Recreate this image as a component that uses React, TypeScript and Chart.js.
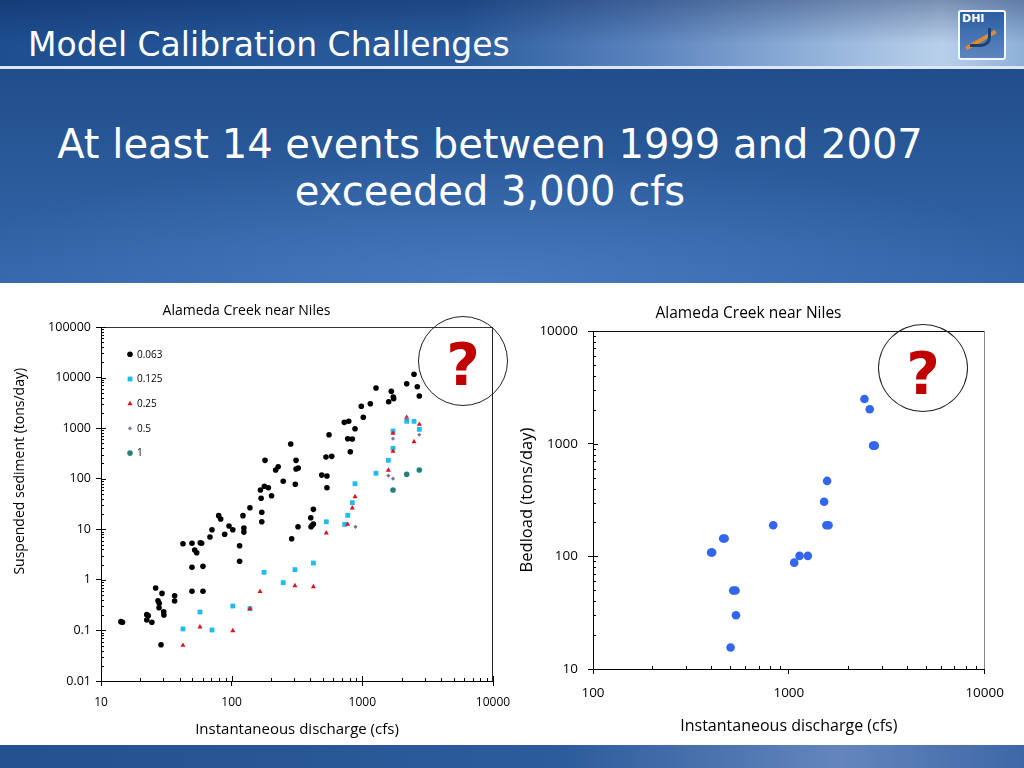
import React, { useEffect, useRef } from 'react';
import { Chart, registerables } from 'chart.js';

Chart.register(...registerables);

// ---------- Left chart: suspended sediment by grain size ----------
const legendLabels = ['0.063', '0.125', '0.25', '0.5', '1'];

const flow063 = [14.2, 14.6, 22.4, 23.0, 22.4, 24.5, 26.2, 27.3, 27.9, 27.8, 29.3, 30.2, 30.3, 28.8, 36.6, 36.6, 42.4, 49.7, 49.7, 49.7, 52.1, 54.0, 57.5, 58.9, 60.3, 60.3, 68.2, 70.7, 79.6, 82.4, 88.4, 95.4, 102, 122, 124, 124, 115, 115, 138, 170, 170, 168, 166, 180, 178, 191, 202, 217, 227, 248, 283, 288, 307, 311, 311, 323, 322, 403, 422, 405, 414, 422, 489, 536, 536, 527, 583, 556, 773, 838, 809, 728, 787, 879, 982, 1017, 1151, 1272, 1666, 1591, 1726, 1738, 2185, 2486, 2634, 2729];
const sed063 = [0.149, 0.145, 0.205, 0.195, 0.161, 0.145, 0.69, 0.387, 0.344, 0.281, 0.54, 0.234, 0.202, 0.052, 0.486, 0.382, 5.19, 5.28, 1.77, 0.594, 3.89, 3.44, 5.43, 5.28, 1.85, 0.594, 7.03, 9.8, 18.6, 16.0, 7.96, 11.6, 9.8, 18.6, 10.6, 8.8, 4.73, 2.33, 26.7, 21.7, 14.1, 41, 59.8, 231, 70.8, 66.4, 46.1, 149, 173, 89, 486, 6.52, 77.5, 231, 156, 163, 11.2, 16.9, 24.8, 11.2, 12, 12.7, 118, 113, 66.4, 268, 277, 741, 618, 610, 342, 1303, 1365, 975, 2703, 1637, 3041, 6223, 5346, 3334, 4132, 3820, 7569, 11610, 6590, 4325];

const flow125 = [42.4, 57.2, 70.7, 102, 138, 177, 248, 305, 422, 530, 733, 773, 838, 879, 1272, 1581, 1717, 1717, 2185, 2486, 2729];
const sed125 = [0.107, 0.231, 0.102, 0.304, 0.269, 1.41, 0.88, 1.59, 2.15, 14.1, 12.5, 18.9, 33.6, 79.6, 128, 231, 399, 877, 1365, 1365, 948];

const flow25 = [42.4, 57.2, 102, 138, 165, 305, 422, 530, 773, 838, 879, 1581, 1717, 1717, 2185, 2486, 2729];
const sed25 = [0.0508, 0.117, 0.0987, 0.269, 0.584, 0.766, 0.732, 8.45, 12.5, 26.4, 44, 147, 348, 791, 1637, 539, 1191];

const flow5 = [886, 1581, 1717, 1717, 2185, 2729];
const sed5 = [11.2, 115, 100, 618, 1537, 741];

const flow1 = [1717, 2185, 2729];
const sed1 = [60, 122, 149];

const leftXMajors = [10, 100, 1000, 10000];
const leftXLabels = ['10', '100', '1000', '10000'];
const leftYMajors = [0.01, 0.1, 1, 10, 100, 1000, 10000, 100000];
const leftYLabels = ['0.01', '0.1', '1', '10', '100', '1000', '10000', '100000'];

// ---------- Right chart: bedload ----------
const bedFlow = [401, 406, 462, 470, 520, 534, 537, 504, 832, 1065, 1134, 1250, 1514, 1568, 1555, 1594, 2432, 2588, 2692, 2747];
const bedLoad = [108, 108, 144, 144, 49.7, 49.7, 30, 15.5, 189, 87.9, 101, 101, 305, 467, 189, 189, 2495, 2019, 960, 960];

const rightXMajors = [100, 1000, 10000];
const rightXLabels = ['100', '1000', '10000'];
const rightYMajors = [10, 100, 1000, 10000];
const rightYLabels = ['10', '100', '1000', '10000'];

const chartTitle = 'Alameda Creek near Niles';
const xTitle = 'Instantaneous discharge (cfs)';
const leftYTitle = 'Suspended sediment (tons/day)';
const rightYTitle = 'Bedload (tons/day)';

const FONT = '"Open Sans", "DejaVu Sans", sans-serif';
const SLIDE_FONT = '"DejaVu Sans", Verdana, sans-serif';

Chart.defaults.font.family = FONT;
Chart.defaults.color = '#000';

const pts = (xs: number[], ys: number[]) => xs.map((x, i) => ({ x, y: ys[i] }));

function tickBuilder(majors: number[]) {
  return (scale: any) => {
    const out: any[] = [];
    majors.forEach((m, i) => {
      out.push({ value: m, major: true });
      if (i < majors.length - 1) {
        for (let k = 2; k <= 9; k++) out.push({ value: m * k, major: false });
      }
    });
    scale.ticks = out;
  };
}

function labelCb(majors: number[], labels: string[]) {
  return function (_v: any, i: number, ticks: any[]) {
    const t = ticks[i];
    if (!t || !t.major) return '';
    const j = majors.findIndex((m) => Math.abs(m - t.value) <= m * 1e-9);
    return j >= 0 ? labels[j] : '';
  };
}

const gridOpts = {
  display: true,
  drawOnChartArea: false,
  drawTicks: true,
  tickLength: 5,
  lineWidth: 1,
  color: (c: any) => (c.tick && c.tick.major ? '#000' : 'rgba(0,0,0,0)'),
};

function drawMarker(ctx: CanvasRenderingContext2D, style: string, r: number, x: number, y: number) {
  ctx.beginPath();
  if (style === 'rect') {
    const s = r * Math.SQRT1_2;
    ctx.rect(x - s, y - s, 2 * s, 2 * s);
  } else if (style === 'triangle') {
    let a = 0;
    ctx.moveTo(x + Math.sin(a) * r, y - Math.cos(a) * r);
    a += (2 * Math.PI) / 3;
    ctx.lineTo(x + Math.sin(a) * r, y - Math.cos(a) * r);
    a += (2 * Math.PI) / 3;
    ctx.lineTo(x + Math.sin(a) * r, y - Math.cos(a) * r);
    ctx.closePath();
  } else if (style === 'rectRot') {
    ctx.moveTo(x - r, y);
    ctx.lineTo(x, y - r);
    ctx.lineTo(x + r, y);
    ctx.lineTo(x, y + r);
    ctx.closePath();
  } else {
    ctx.arc(x, y, r, 0, Math.PI * 2);
  }
  ctx.fill();
}

function decorPlugin(o: { top: string; right: string; xMajorIn: number; yMajorIn: number; minorIn: number }) {
  return {
    id: 'axisDecor',
    beforeDatasetsDraw(chart: any) {
      const { ctx, chartArea: a } = chart;
      ctx.save();
      ctx.lineWidth = 1;
      ctx.strokeStyle = o.top;
      ctx.beginPath();
      ctx.moveTo(a.left, Math.round(a.top) + 0.5);
      ctx.lineTo(a.right, Math.round(a.top) + 0.5);
      ctx.stroke();
      ctx.strokeStyle = o.right;
      ctx.beginPath();
      ctx.moveTo(Math.round(a.right) - 0.5, a.top);
      ctx.lineTo(Math.round(a.right) - 0.5, a.bottom);
      ctx.stroke();
      ctx.strokeStyle = '#000';
      const xs = chart.scales.x;
      const ys = chart.scales.y;
      xs.ticks.forEach((t: any) => {
        const len = t.major ? o.xMajorIn : o.minorIn;
        if (!len) return;
        const px = Math.round(xs.getPixelForValue(t.value)) + 0.5;
        ctx.beginPath();
        ctx.moveTo(px, a.bottom);
        ctx.lineTo(px, a.bottom - len);
        ctx.stroke();
      });
      ys.ticks.forEach((t: any) => {
        const len = t.major ? o.yMajorIn : o.minorIn;
        if (!len) return;
        const py = Math.round(ys.getPixelForValue(t.value)) + 0.5;
        ctx.beginPath();
        ctx.moveTo(a.left, py);
        ctx.lineTo(a.left + len, py);
        ctx.stroke();
      });
      ctx.restore();
    },
  };
}

const insideLegend = {
  id: 'insideLegend',
  afterDatasetsDraw(chart: any) {
    const { ctx, chartArea: a } = chart;
    ctx.save();
    ctx.font = `10px ${FONT}`;
    ctx.textBaseline = 'middle';
    ctx.textAlign = 'left';
    chart.data.datasets.forEach((ds: any, i: number) => {
      const cx = a.left + 29;
      const cy = a.top + 27.3 + i * 24.7;
      ctx.fillStyle = ds.backgroundColor;
      drawMarker(ctx, ds.pointStyle, ds.pointRadius, cx, cy);
      ctx.fillStyle = '#000';
      ctx.fillText(ds.label, cx + 7, cy + 0.5);
    });
    ctx.restore();
  },
};

function leftConfig(): any {
  const mk = (label: string, data: any[], color: string, style: string, r: number, order: number) => ({
    label,
    data,
    backgroundColor: color,
    borderColor: color,
    borderWidth: 0,
    pointStyle: style,
    pointRadius: r,
    pointBorderWidth: 0,
    order,
  });
  return {
    type: 'scatter',
    data: {
      datasets: [
        mk(legendLabels[0], pts(flow063, sed063), '#000000', 'circle', 2.8, 5),
        mk(legendLabels[1], pts(flow125, sed125), '#1DBDEF', 'rect', 3.4, 4),
        mk(legendLabels[2], pts(flow25, sed25), '#E3101C', 'triangle', 2.9, 3),
        mk(legendLabels[3], pts(flow5, sed5), '#77779A', 'rectRot', 2.1, 2),
        mk(legendLabels[4], pts(flow1, sed1), '#24807F', 'circle', 2.8, 1),
      ],
    },
    options: {
      responsive: true,
      maintainAspectRatio: false,
      animation: false,
      events: [],
      layout: { padding: { top: 0, left: 0, right: 27, bottom: 0 } },
      plugins: {
        legend: { display: false },
        tooltip: { enabled: false },
        title: {
          display: true,
          text: chartTitle,
          color: '#000',
          font: { size: 14, weight: 'normal', family: FONT },
          padding: { top: 2.6, bottom: 7.6 },
        },
      },
      scales: {
        x: {
          type: 'logarithmic',
          position: 'bottom',
          min: 10,
          max: 10000,
          afterBuildTicks: tickBuilder(leftXMajors),
          afterFit: (s: any) => { s.height = 64; },
          ticks: {
            autoSkip: false,
            maxRotation: 0,
            minRotation: 0,
            padding: 9.8,
            color: '#000',
            font: { size: 12, family: FONT },
            callback: labelCb(leftXMajors, leftXLabels),
          },
          grid: gridOpts,
          border: { display: true, color: '#000', width: 1 },
          title: {
            display: true,
            text: xTitle,
            color: '#000',
            font: { size: 15, family: FONT },
            padding: { top: 0, bottom: 6 },
          },
        },
        y: {
          type: 'logarithmic',
          position: 'left',
          min: 0.01,
          max: 100000,
          afterBuildTicks: tickBuilder(leftYMajors),
          afterFit: (s: any) => { s.width = 101; },
          ticks: {
            autoSkip: false,
            padding: 5,
            color: '#000',
            font: { size: 12.5, family: FONT },
            callback: labelCb(leftYMajors, leftYLabels),
          },
          grid: gridOpts,
          border: { display: true, color: '#000', width: 1 },
          title: {
            display: true,
            text: ' '.repeat(18) + leftYTitle,
            color: '#000',
            font: { size: 14, family: FONT },
            padding: { top: 11.6, bottom: 0 },
          },
        },
      },
    },
    plugins: [decorPlugin({ top: '#333', right: '#222', xMajorIn: 5, yMajorIn: 5, minorIn: 3 }), insideLegend],
  };
}

function rightConfig(): any {
  return {
    type: 'scatter',
    data: {
      datasets: [
        {
          label: 'Bedload',
          data: pts(bedFlow, bedLoad),
          backgroundColor: '#3366EE',
          borderColor: '#3366EE',
          pointRadius: 4.3,
          pointBorderWidth: 0,
        },
      ],
    },
    options: {
      responsive: true,
      maintainAspectRatio: false,
      animation: false,
      events: [],
      layout: { padding: { top: 0, left: 0, right: 30, bottom: 0 } },
      plugins: {
        legend: { display: false },
        tooltip: { enabled: false },
        title: {
          display: true,
          text: chartTitle,
          color: '#000',
          font: { size: 15.5, weight: 'normal', family: FONT },
          padding: { top: 4.7, bottom: 7.7 },
        },
      },
      scales: {
        x: {
          type: 'logarithmic',
          position: 'bottom',
          min: 100,
          max: 10000,
          afterBuildTicks: tickBuilder(rightXMajors),
          afterFit: (s: any) => { s.height = 76; },
          ticks: {
            autoSkip: false,
            maxRotation: 0,
            minRotation: 0,
            padding: 11,
            color: '#000',
            font: { size: 13.5, family: FONT },
            callback: labelCb(rightXMajors, rightXLabels),
          },
          grid: gridOpts,
          border: { display: true, color: '#000', width: 1 },
          title: {
            display: true,
            text: xTitle,
            color: '#000',
            font: { size: 16, family: FONT },
            padding: { top: 0, bottom: 9.4 },
          },
        },
        y: {
          type: 'logarithmic',
          position: 'left',
          min: 10,
          max: 10000,
          afterBuildTicks: tickBuilder(rightYMajors),
          afterFit: (s: any) => { s.width = 81; },
          ticks: {
            autoSkip: false,
            padding: 10,
            color: '#000',
            font: { size: 13.5, family: FONT },
            callback: labelCb(rightYMajors, rightYLabels),
          },
          grid: gridOpts,
          border: { display: true, color: '#000', width: 1 },
          title: {
            display: true,
            text: rightYTitle,
            color: '#000',
            font: { size: 16.5, family: FONT, lineHeight: 1 },
            padding: { top: 6.75, bottom: 0 },
          },
        },
      },
    },
    plugins: [decorPlugin({ top: '#111', right: '#888', xMajorIn: 0, yMajorIn: 5, minorIn: 3 })],
  };
}

export default function App() {
  const leftRef = useRef<HTMLCanvasElement>(null);
  const rightRef = useRef<HTMLCanvasElement>(null);

  useEffect(() => {
    const c1 = new Chart(leftRef.current as HTMLCanvasElement, leftConfig());
    const c2 = new Chart(rightRef.current as HTMLCanvasElement, rightConfig());
    return () => {
      c1.destroy();
      c2.destroy();
    };
  }, []);

  const abs = (s: React.CSSProperties): React.CSSProperties => ({ position: 'absolute', ...s });

  return (
    <div style={{ position: 'fixed', left: 0, top: 0, width: 1024, height: 768, overflow: 'hidden', background: '#fff' }}>
      {/* header */}
      <div
        style={abs({
          left: 0, top: 0, width: 1024, height: 67,
          background:
            'linear-gradient(180deg, rgba(8,28,78,0.35) 0%, rgba(8,28,78,0) 65%), linear-gradient(90deg, #1e4e8f 0%, #2a5c9d 45%, #5a83bd 63%, #9ab8dd 82%, #b9d0ea 92%, #8eafd8 100%)',
        })}
      />
      <div style={abs({ left: 0, top: 66, width: 1024, height: 3, background: '#dce7f3' })} />
      <div
        style={abs({
          left: 28, top: 28, height: 33, lineHeight: '33px', fontSize: 33, color: '#fff',
          fontFamily: SLIDE_FONT, whiteSpace: 'nowrap',
        })}
      >
        Model Calibration Challenges
      </div>
      {/* DHI logo */}
      <div style={abs({ left: 958, top: 10, width: 44, height: 46, border: '2px solid #f4f7fb', borderRadius: 3, background: 'linear-gradient(180deg,#2b5da2,#5d86c0)' })}>
        <div style={abs({ left: 2, top: 1, width: 40, fontSize: 11, lineHeight: '12px', fontWeight: 'bold', color: '#fff', fontFamily: SLIDE_FONT, textAlign: 'left' })}>DHI</div>
        <div style={abs({ left: 4, top: 26, width: 34, height: 4, background: '#e08a2c', transform: 'rotate(-30deg)' })} />
        <div style={abs({ left: 10, top: 16, width: 18, height: 16, borderRight: '3px solid #1c3f7a', borderBottom: '3px solid #1c3f7a', borderRadius: '0 0 10px 0' })} />
      </div>
      {/* subtitle band */}
      <div
        style={abs({
          left: 0, top: 69, width: 1024, height: 214,
          background:
            'radial-gradient(ellipse 55% 60% at 48% 100%, rgba(95,145,215,0.45), rgba(95,145,215,0) 100%), linear-gradient(180deg, #214d8b 0%, #2b5b9b 50%, #3566aa 100%)',
        })}
      />
      <div
        style={abs({
          left: 0, top: 120.7, width: 980, textAlign: 'center', fontSize: 40, lineHeight: '47px',
          color: '#fff', fontFamily: SLIDE_FONT,
        })}
      >
        At least 14 events between 1999 and 2007
        <br />
        exceeded 3,000 cfs
      </div>
      {/* bottom band */}
      <div
        style={abs({
          left: 0, top: 745, width: 1024, height: 23,
          background: 'linear-gradient(90deg, #24518f 0%, #2d5c9c 55%, #6486bd 82%, #3d67a6 100%)',
        })}
      />
      {/* charts */}
      <div style={abs({ left: 0, top: 300, width: 520, height: 445 })}>
        <canvas ref={leftRef} />
      </div>
      <div style={abs({ left: 512, top: 300, width: 503, height: 445 })}>
        <canvas ref={rightRef} />
      </div>
      {/* question mark callouts */}
      <div style={abs({ left: 418, top: 316, width: 90, height: 90, border: '1px solid #222', borderRadius: '50%', boxSizing: 'border-box' })} />
      <div style={abs({ left: 418, top: 336, width: 90, textAlign: 'center', fontSize: 58, lineHeight: '58px', fontWeight: 'bold', color: '#C00000', fontFamily: SLIDE_FONT })}>?</div>
      <div style={abs({ left: 878, top: 324, width: 90, height: 88, border: '1px solid #222', borderRadius: '50%', boxSizing: 'border-box' })} />
      <div style={abs({ left: 878, top: 345, width: 90, textAlign: 'center', fontSize: 58, lineHeight: '58px', fontWeight: 'bold', color: '#C00000', fontFamily: SLIDE_FONT })}>?</div>
    </div>
  );
}
